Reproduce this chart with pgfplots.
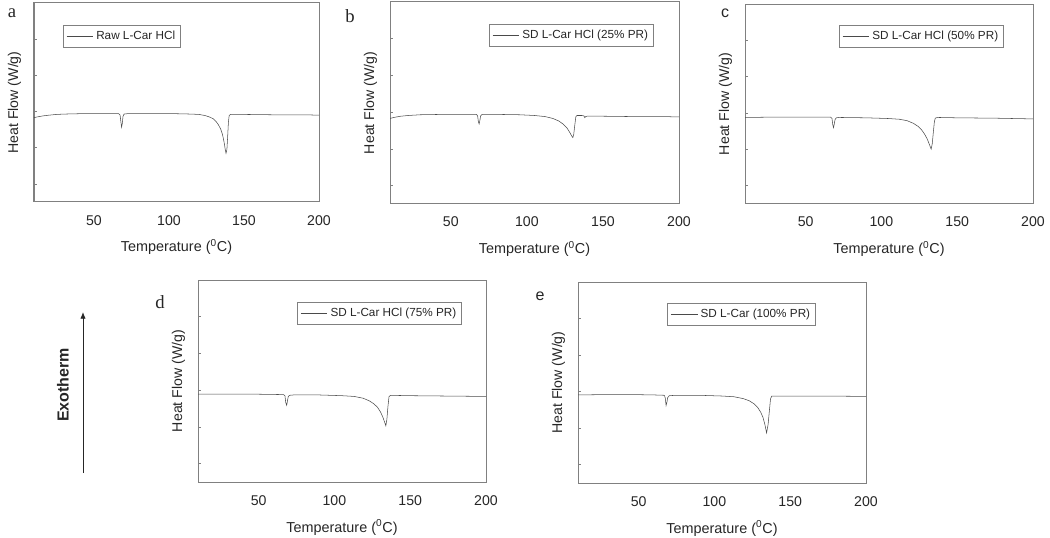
\documentclass[border=0pt]{standalone}
\usepackage{fontspec}
\setmainfont{Liberation Sans}
\newfontfamily\seriffont{Liberation Serif}
\usepackage{pgfplots}
\pgfplotsset{compat=1.18}
\usetikzlibrary{arrows.meta}
\definecolor{curve}{HTML}{4A4A4A}
\definecolor{axisgray}{HTML}{808080}
\definecolor{txt}{HTML}{262626}
\pgfplotsset{dsc/.style={
  scale only axis, xmin=10, xmax=200, ymin=0, ymax=5.5,
  xtick={50,100,150,200}, ytick={0.5,1.5,2.5,3.5,4.5}, yticklabels={},
  axis line style={axisgray, line width=0.75pt},
  tick align=inside, ytick pos=left, xtick pos=bottom,
  major tick length=2.5pt,
  tick style={axisgray, line width=0.6pt},
  xtick style={draw=none},
  /pgf/number format/assume math mode=true,
  xticklabel style={font=\fontsize{10.6}{12}\selectfont, text=txt, anchor=base, yshift=-17.25pt},
  xlabel={Temperature (\textsuperscript{0}C)},
  ylabel={Heat Flow (W/g)},
  x label style={at={([yshift=-37.5pt]axis description cs:0.5,0)}, anchor=base, font=\fontsize{10.8}{12}\selectfont, text=txt},
  y label style={at={([xshift=-12pt]axis description cs:0,0.5)}, anchor=base, font=\fontsize{10.6}{12}\selectfont, text=txt},
  legend style={draw=axisgray, line width=0.6pt, font=\fontsize{8.8}{10}\selectfont, text=txt, inner xsep=2pt, inner ysep=2.3pt, nodes={inner sep=2pt}},
  legend image code/.code={\draw[#1] (0pt,0pt) -- (20pt,0pt);},
  cycle list={{curve, line width=0.9pt, line join=round, mark=none}},
}}
\begin{document}
\begin{tikzpicture}
\useasboundingbox (0pt,0pt) rectangle (787.5pt,-403.5pt);
% panel a
\begin{axis}[dsc, at={(25.5pt,-151.5pt)}, anchor=south west, width=213.75pt, height=149.25pt,
  legend style={at={(0.102,0.89)}, anchor=north west}]
\addplot+[curve, mark=none] coordinates {(9,2.32)(12,2.35)(16,2.38)(20,2.40)(25,2.42)(30,2.43)(40,2.44)(55,2.44)(66.5,2.44)(67.4,2.40)(67.9,2.22)(68.4,2.07)(68.9,2.18)(69.3,2.36)(70,2.43)(72,2.44)(90,2.44)(105,2.44)(115,2.43)(120,2.42)(124,2.39)(127,2.35)(129.5,2.30)(131.5,2.22)(133,2.13)(134.5,2.01)(135.7,1.86)(136.7,1.66)(137.5,1.45)(138,1.35)(138.6,1.45)(139.1,1.80)(139.6,2.20)(140.1,2.39)(141,2.42)(150,2.42)(170,2.41)(190,2.41)(200,2.40)};
\addlegendentry{Raw L-Car HCl}
\end{axis}
% panel b
\begin{axis}[dsc, at={(292.5pt,-153pt)}, anchor=south west, width=216.75pt, height=151.5pt,
  legend style={at={(0.913,0.891)}, anchor=north east}]
\addplot+[curve, mark=none] coordinates {(10,2.33)(13,2.36)(17,2.39)(22,2.41)(30,2.43)(45,2.44)(60,2.44)(66.8,2.44)(67.6,2.40)(68.1,2.24)(68.6,2.18)(69.1,2.28)(69.6,2.40)(70.5,2.44)(80,2.44)(95,2.43)(105,2.41)(112,2.38)(117,2.33)(121,2.26)(124,2.17)(126.5,2.06)(128.3,1.94)(129.5,1.85)(130.2,1.81)(130.8,1.90)(131.5,2.15)(132.2,2.38)(133,2.41)(136,2.41)(137.5,2.40)(138.1,2.35)(138.6,2.38)(139.5,2.39)(150,2.39)(170,2.38)(190,2.38)(200,2.37)};
\addlegendentry{SD L-Car HCl (25\% PR)}
\end{axis}
% panel c
\begin{axis}[dsc, at={(558.75pt,-153pt)}, anchor=south west, width=216pt, height=150pt,
  legend style={at={(0.899,0.895)}, anchor=north east}]
\addplot+[curve, mark=none] coordinates {(10,2.38)(30,2.39)(50,2.39)(66.5,2.39)(67.4,2.35)(67.9,2.18)(68.4,2.10)(68.9,2.20)(69.4,2.32)(70.2,2.37)(72,2.38)(90,2.37)(105,2.35)(112,2.33)(117,2.29)(121,2.22)(124,2.14)(126.5,2.04)(128.5,1.92)(130.3,1.78)(131.8,1.62)(132.8,1.51)(133.5,1.65)(134.2,1.95)(134.9,2.25)(135.5,2.36)(137,2.38)(150,2.37)(175,2.36)(200,2.34)};
\addlegendentry{SD L-Car HCl (50\% PR)}
\end{axis}
% panel d
\begin{axis}[dsc, at={(148.5pt,-361.5pt)}, anchor=south west, width=216pt, height=151.5pt,
  legend style={at={(0.917,0.891)}, anchor=north east}]
\addplot+[curve, mark=none] coordinates {(10,2.39)(30,2.39)(50,2.39)(66.5,2.38)(67.4,2.34)(67.9,2.16)(68.5,2.09)(69,2.20)(69.5,2.32)(70.3,2.36)(73,2.37)(90,2.37)(105,2.35)(113,2.33)(119,2.28)(123,2.21)(126,2.13)(128.5,2.03)(130.5,1.90)(132,1.76)(133.2,1.62)(133.9,1.53)(134.6,1.70)(135.3,2.05)(136,2.32)(137,2.36)(150,2.35)(175,2.34)(200,2.33)};
\addlegendentry{SD L-Car HCl (75\% PR)}
\end{axis}
% panel e
\begin{axis}[dsc, at={(433.5pt,-362.25pt)}, anchor=south west, width=216pt, height=150.75pt,
  legend style={at={(0.826,0.895)}, anchor=north east}]
\addplot+[curve, mark=none] coordinates {(10,2.41)(30,2.42)(45,2.42)(60,2.41)(67,2.40)(67.6,2.32)(68.1,2.12)(68.6,2.20)(69.2,2.34)(70.3,2.39)(75,2.40)(90,2.40)(105,2.38)(113,2.36)(119,2.31)(123,2.25)(126,2.17)(128.5,2.07)(130.5,1.94)(132,1.80)(133.3,1.60)(134.4,1.37)(135.4,1.60)(136.2,1.95)(137,2.30)(137.8,2.38)(145,2.38)(170,2.38)(200,2.37)};
\addlegendentry{SD L-Car (100\% PR)}
\end{axis}
% panel letters
\node[font=\seriffont\fontsize{14}{15}\selectfont, text=txt] at (9pt,-9.75pt) {a};
\node[font=\seriffont\fontsize{14}{15}\selectfont, text=txt] at (262.5pt,-12pt) {b};
\node[font=\fontsize{12}{13}\selectfont, text=txt] at (543.75pt,-9.75pt) {c};
\node[font=\seriffont\fontsize{14}{15}\selectfont, text=txt] at (120pt,-226.5pt) {d};
\node[font=\fontsize{12}{13}\selectfont, text=txt] at (405pt,-222pt) {e};
% exotherm arrow
\draw[txt, line width=0.6pt, -{Latex[length=5pt,width=4pt]}] (62.25pt,-354.75pt) -- (62.25pt,-234pt);
\node[rotate=90, font=\bfseries\fontsize{12}{13}\selectfont, text=txt] at (47.25pt,-288.75pt) {Exotherm};
\end{tikzpicture}
\end{document}
